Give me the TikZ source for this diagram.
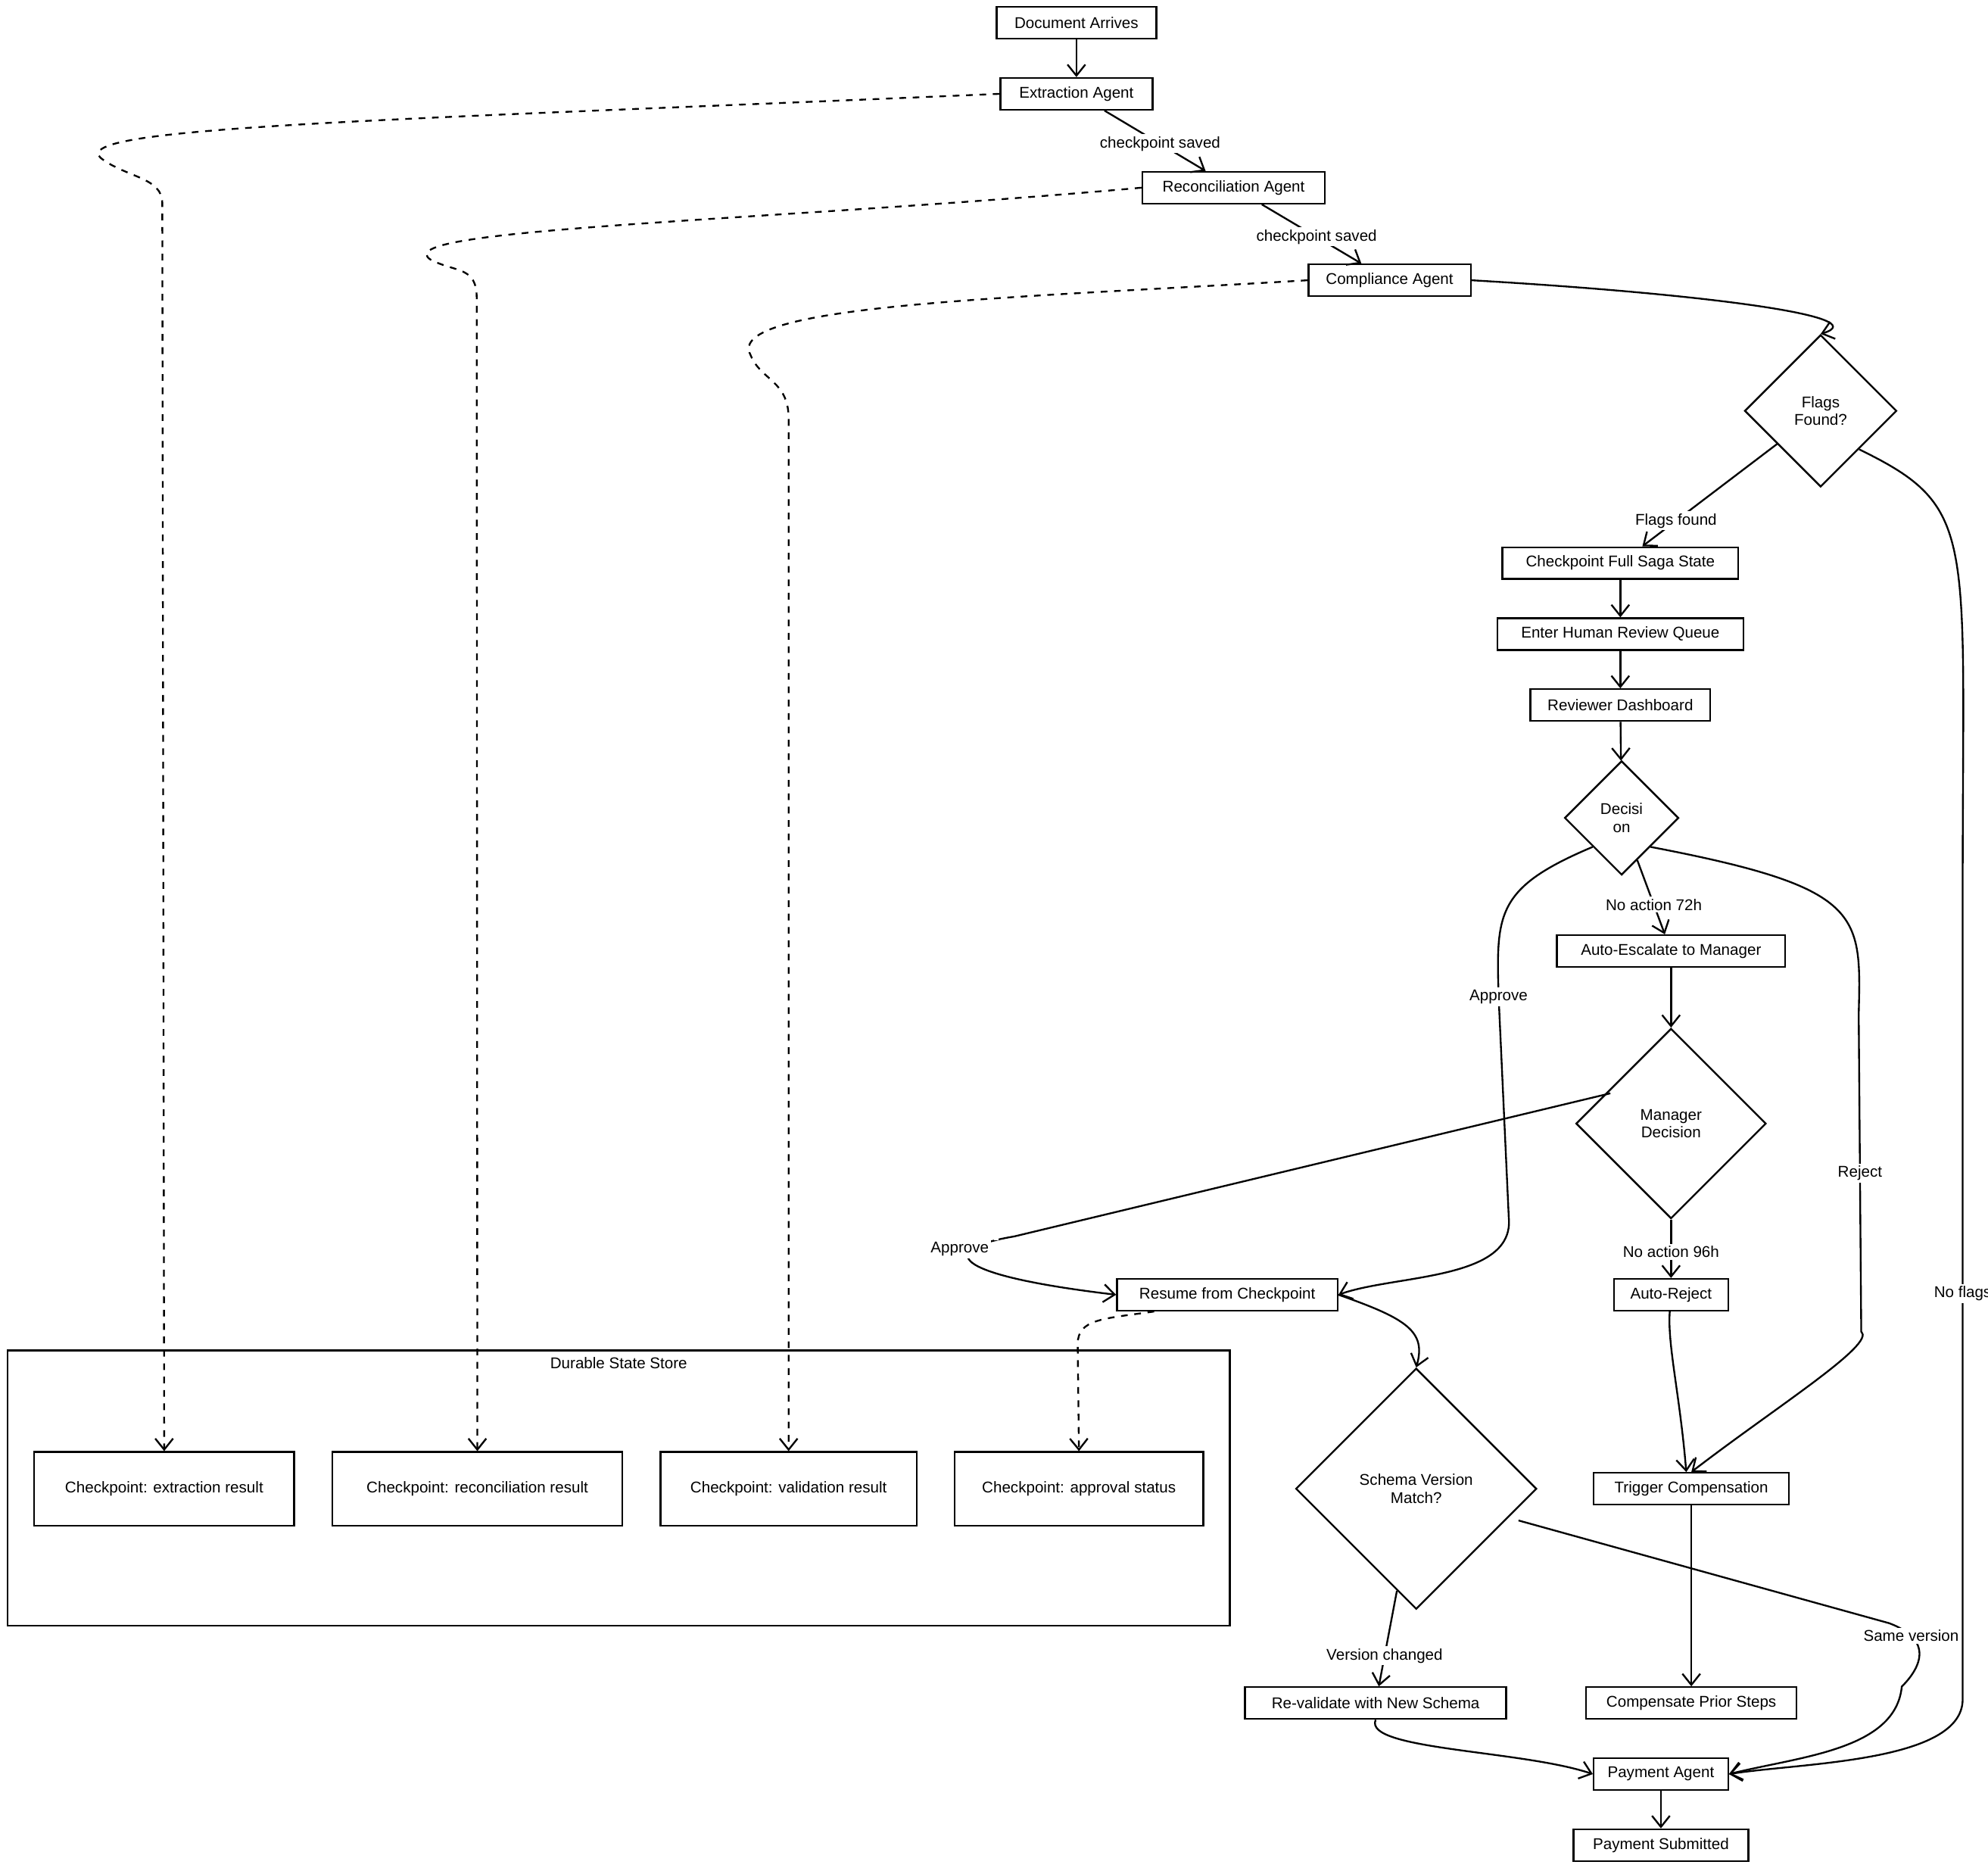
\documentclass[tikz,border=0pt]{standalone}
\usepackage{fontspec}
\setmainfont{Liberation Sans}
\usetikzlibrary{arrows.meta,shapes.geometric}
\tikzset{
  box/.style={draw, thick, minimum height=0.5cm, inner sep=2pt, font=\scriptsize},
  dec/.style={draw, thick, diamond, aspect=1, align=center, font=\scriptsize, inner sep=0pt},
  cp/.style={draw, thick, minimum height=1.16cm, font=\scriptsize},
  flow/.style={thick, -{Straight Barb[length=5pt,width=8pt]}},
  dflow/.style={flow, dashed},
  lbl/.style={fill=white, font=\scriptsize, inner sep=1pt}
}
\begin{document}
\begin{tikzpicture}[x=0.02cm, y=-0.02cm]
  \useasboundingbox (0,0) rectangle (1568,1475);
  % main chain
  \node[box, minimum width=2.52cm] (doc) at (849,18) {Document Arrives};
  \node[box, minimum width=2.4cm] (extr) at (849,74) {Extraction Agent};
  \node[box, minimum width=2.88cm] (recon) at (973,148) {Reconciliation Agent};
  \node[box, minimum width=2.56cm] (comp) at (1096,221) {Compliance Agent};
  \node[dec, minimum size=2.4cm] (flags) at (1436,324) {Flags\\Found?};
  \node[box, minimum width=3.72cm] (cpfull) at (1278,444) {Checkpoint Full Saga State};
  \node[box, minimum width=3.88cm] (queue) at (1278,500) {Enter Human Review Queue};
  \node[box, minimum width=2.84cm] (dash) at (1278,556) {Reviewer Dashboard};
  \node[dec, minimum size=1.8cm] (decn) at (1279,645) {Decisi\\on};
  \node[box, minimum width=3.6cm] (escal) at (1318,750) {Auto-Escalate to Manager};
  \node[dec, minimum size=3cm] (mgr) at (1318,886) {Manager\\Decision};
  \node[box, minimum width=3.48cm] (resume) at (968,1021) {Resume from Checkpoint};
  \node[box, minimum width=1.8cm] (autorej) at (1318,1021) {Auto-Reject};
  \node[dec, minimum size=3.8cm] (schema) at (1117,1174) {Schema Version\\Match?};
  \node[box, minimum width=3.08cm] (trig) at (1334,1174) {Trigger Compensation};
  \node[box, minimum width=4.12cm] (reval) at (1085,1343) {Re-validate with New Schema};
  \node[box, minimum width=3.32cm] (comps) at (1334,1343) {Compensate Prior Steps};
  \node[box, minimum width=2.12cm] (pay) at (1310,1399) {Payment Agent};
  \node[box, minimum width=2.76cm] (paysub) at (1310,1455) {Payment Submitted};
  % state store
  \draw[thick] (6,1065) rectangle (970,1282);
  \node[font=\scriptsize] (storelbl) at (488,1075) {Durable State Store};
  \node[cp, minimum width=4.1cm] (cp1) at (129.5,1174) {Checkpoint: extraction result};
  \node[cp, minimum width=4.58cm] (cp2) at (376.5,1174) {Checkpoint: reconciliation result};
  \node[cp, minimum width=4.04cm] (cp3) at (622,1174) {Checkpoint: validation result};
  \node[cp, minimum width=3.92cm] (cp4) at (851,1174) {Checkpoint: approval status};
  % flow
  \draw[flow] (doc) -- (extr);
  \draw[flow] (extr) -- node[lbl, pos=0.55] {checkpoint saved} (recon);
  \draw[flow] (recon) -- node[lbl, pos=0.55] {checkpoint saved} (comp);
  \draw[flow] (comp.east) .. controls (1350,232) and (1480,250) .. (flags.north);
  \draw[flow] (flags) -- node[lbl, pos=0.75] {Flags found} (cpfull);
  \draw[flow] (flags.south east) .. controls (1560,400) and (1548,420) .. (1548,700)
    -- node[lbl] {No flags} (1548,1340) .. controls (1548,1390) and (1420,1390) .. (pay.east);
  \draw[flow] (cpfull) -- (queue);
  \draw[flow] (queue) -- (dash);
  \draw[flow] (dash) -- (decn);
  \draw[flow] (decn) -- node[lbl, pos=0.6] {No action 72h} (escal);
  \draw[flow] (decn.south west) .. controls (1180,700) and (1180,720) .. (1182,786)
    node[lbl] {Approve} -- (1190,960) .. controls (1195,1010) and (1100,1005) .. (resume.east);
  \draw[flow] (decn.south east) .. controls (1470,700) and (1468,720) .. (1466,800)
    -- node[lbl] {Reject} (1468,1050) .. controls (1480,1060) and (1400,1110) .. (trig.north);
  \draw[flow] (escal) -- (mgr);
  \draw[flow] (mgr.north west) ++(-10,14) -- (800,975) .. controls (740,985) and (745,1005) .. (resume.west)
    node[lbl, pos=0.05, left=2pt] {};
  \node[lbl] (apl) at (757,985) {Approve};
  \draw[flow] (mgr) -- node[lbl, pos=0.55] {No action 96h} (autorej);
  \draw[flow] (autorej) .. controls (1315,1060) and (1325,1100) .. (trig.north -| 1330,0);
  \draw[flow] (resume.east) .. controls (1110,1040) and (1125,1050) .. (schema.north);
  \draw[flow] (schema) -- node[lbl, pos=0.68] {Version changed} (reval);
  \draw[flow] (schema.east) ++(-15,25) -- (1490,1280) .. controls (1530,1295) and (1510,1320) .. (1500,1330)
    node[lbl, pos=0.2] {Same version} .. controls (1495,1380) and (1420,1385) .. (pay.east);
  \draw[flow] (trig) -- (comps);
  \draw[flow] (reval.south) .. controls (1075,1380) and (1200,1380) .. (pay.west);
  \draw[flow] (pay) -- (paysub);
  % checkpoints
  \draw[dflow] (extr.west) .. controls (300,95) and (50,100) .. (80,125) .. controls (100,140) and (128,140) .. (128,160) -- (cp1.north);
  \draw[dflow] (recon.west) .. controls (600,175) and (300,180) .. (340,205) .. controls (360,215) and (376,210) .. (376,235) -- (cp2.north);
  \draw[dflow] (comp.west) .. controls (800,235) and (570,240) .. (592,280) .. controls (600,300) and (622,300) .. (622,330) -- (cp3.north);
  \draw[dflow] (resume.south west) ++(30,0) .. controls (870,1040) and (850,1040) .. (850,1060) -- (cp4.north);
\end{tikzpicture}
\end{document}
